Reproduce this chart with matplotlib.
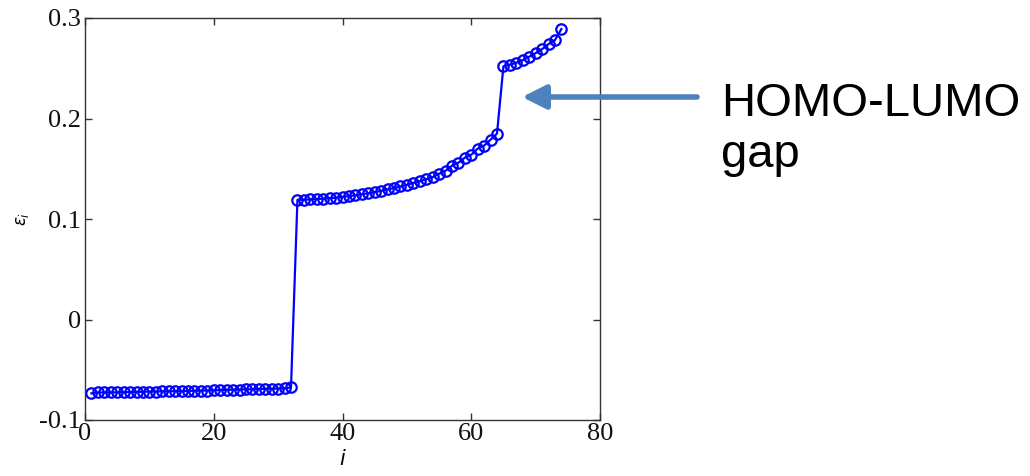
import matplotlib
matplotlib.use("Agg")
import matplotlib.pyplot as plt
from matplotlib.patches import FancyArrowPatch

# ---- data ----
occupied = [-0.0735, -0.0726, -0.0726, -0.0725, -0.0725, -0.0723, -0.0723, -0.0721,
            -0.0719, -0.0717, -0.0717, -0.0715, -0.0715, -0.0713, -0.0713, -0.0711,
            -0.0709, -0.0707, -0.0707, -0.0704, -0.0702, -0.0700, -0.0698, -0.0697,
            -0.0695, -0.0694, -0.0692, -0.0690, -0.0689, -0.0687, -0.0685, -0.0676]
virtual_low = [0.1190, 0.1192, 0.1195, 0.1198, 0.1202, 0.1207, 0.1212, 0.1220,
               0.1228, 0.1236, 0.1246, 0.1256, 0.1268, 0.1280, 0.1294, 0.1308,
               0.1324, 0.1340, 0.1358, 0.1376, 0.1396, 0.1416, 0.1450, 0.1480,
               0.1530, 0.1560, 0.1610, 0.1640, 0.1700, 0.1730, 0.1790, 0.1850]
virtual_high = [0.2520, 0.2535, 0.2555, 0.2580, 0.2615, 0.2650, 0.2690, 0.2740,
                0.2780, 0.2890]
energies = occupied + virtual_low + virtual_high
index = list(range(1, len(energies) + 1))

xticks = [0, 20, 40, 60, 80]
yticks = [-0.1, 0, 0.1, 0.2, 0.3]
yticklabels = ["-0.1", "0", "0.1", "0.2", "0.3"]
annotation = "HOMO-LUMO\ngap"

# ---- figure ----
W, H = 1030, 476
fig = plt.figure(figsize=(W / 100, H / 100), dpi=100)
ax = fig.add_axes([85 / W, 1 - 420 / H, (600 - 85) / W, (420 - 18) / H])

ax.plot(index, energies, color="#0000FF", lw=1.6, marker="o", ms=7.5,
        mfc="none", mec="#0000FF", mew=1.6)

ax.set_xlim(0, 80)
ax.set_ylim(-0.1, 0.3)
ax.set_xticks(xticks)
ax.set_xticklabels([str(t) for t in xticks])
ax.set_yticks(yticks)
ax.set_yticklabels(yticklabels)

serif = ["Liberation Serif", "DejaVu Serif"]
for lab in ax.get_xticklabels() + ax.get_yticklabels():
    lab.set_family(serif)
    lab.set_fontsize(19)
    lab.set_color("#111111")

ax.tick_params(direction="in", length=5, width=1, color="#333333",
               top=True, right=True)
ax.tick_params(axis="x", pad=2)
ax.tick_params(axis="y", pad=3)
for s in ax.spines.values():
    s.set_color("#333333")
    s.set_linewidth(1.0)

plt.rcParams["mathtext.fontset"] = "stix"
ax.set_xlabel(r"$i$", fontsize=15, labelpad=3)
ax.set_ylabel(r"$\varepsilon_i$", fontsize=12, labelpad=6)

# annotation arrow and text (figure pixel coords)
arrow = FancyArrowPatch((697 / W, 1 - 97 / H), (522 / W, 1 - 97 / H),
                        transform=fig.transFigure,
                        arrowstyle="-|>,head_length=0.9,head_width=0.45",
                        mutation_scale=16, color="#4F81BD", lw=4,
                        shrinkA=0, shrinkB=0)
fig.add_artist(arrow)

lines = annotation.split("\n")
baselines = [116, 167]
for txt, yb in zip(lines, baselines):
    fig.text(721 / W, 1 - yb / H, txt, fontsize=34,
             family=["Liberation Sans", "DejaVu Sans"], va="baseline",
             ha="left", color="black")

fig.savefig("out.png", dpi=100)
